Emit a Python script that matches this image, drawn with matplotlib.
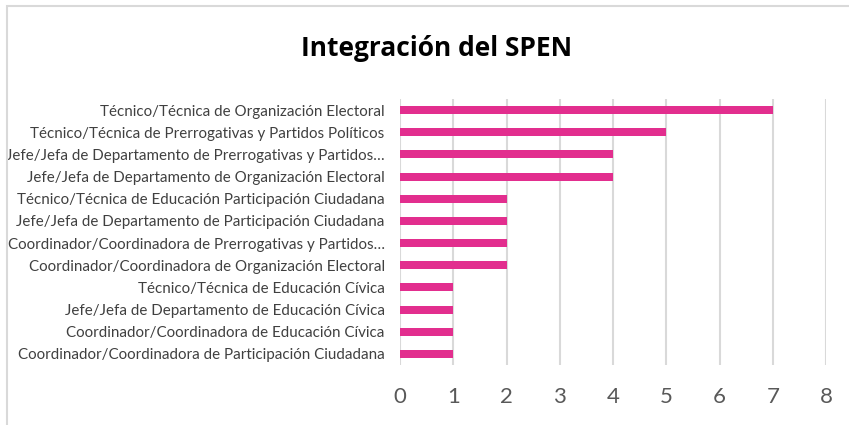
import matplotlib
matplotlib.use("Agg")
import matplotlib.pyplot as plt
from matplotlib.patches import Rectangle

categories = [
    "Técnico/Técnica de Organización Electoral",
    "Técnico/Técnica de Prerrogativas y Partidos Políticos",
    "Jefe/Jefa de Departamento de Prerrogativas y Partidos…",
    "Jefe/Jefa de Departamento de Organización Electoral",
    "Técnico/Técnica de Educación Participación Ciudadana",
    "Jefe/Jefa de Departamento de Participación Ciudadana",
    "Coordinador/Coordinadora de Prerrogativas y Partidos…",
    "Coordinador/Coordinadora de Organización Electoral",
    "Técnico/Técnica de Educación Cívica",
    "Jefe/Jefa de Departamento de Educación Cívica",
    "Coordinador/Coordinadora de Educación Cívica",
    "Coordinador/Coordinadora de Participación Ciudadana",
]
values = [7, 5, 4, 4, 2, 2, 2, 2, 1, 1, 1, 1]
xticks = [0, 1, 2, 3, 4, 5, 6, 7, 8]
title = "Integración del SPEN"

fig = plt.figure(figsize=(8.49, 4.25), dpi=100)
fig.patches.append(Rectangle((7/849, -0.1), 1.2, (425-6)/425 + 0.1, transform=fig.transFigure,
                             fill=False, edgecolor="#d9d9d9", linewidth=1.5))
ax = fig.add_axes([400/849, 60/425, 426/849, 266/425])

ypos = list(range(len(categories)))
ax.barh(ypos, values, height=0.36, color="#E22E8E", zorder=3)
ax.set_ylim(len(categories) - 0.5, -0.5)
ax.set_xlim(0, 8)
ax.set_xticks(xticks)
ax.set_xticklabels([str(t) for t in xticks], fontsize=16, color="#595959", family="Lato")
ax.set_yticks(ypos)
ax.set_yticklabels(categories, fontsize=10.9, color="#404040", family="Lato")
ax.tick_params(axis="both", length=0)
ax.tick_params(axis="x", pad=16)
ax.tick_params(axis="y", pad=11)
for s in ax.spines.values():
    s.set_visible(False)
ax.grid(axis="x", color="#d9d9d9", linewidth=1.5, zorder=0)
ax.set_axisbelow(True)

fig.text(437/849, 1 - 48/425, title, ha="center", va="center", fontsize=19,
         fontweight="bold", family="Open Sans", color="black")

fig.savefig("out.png", dpi=100)
